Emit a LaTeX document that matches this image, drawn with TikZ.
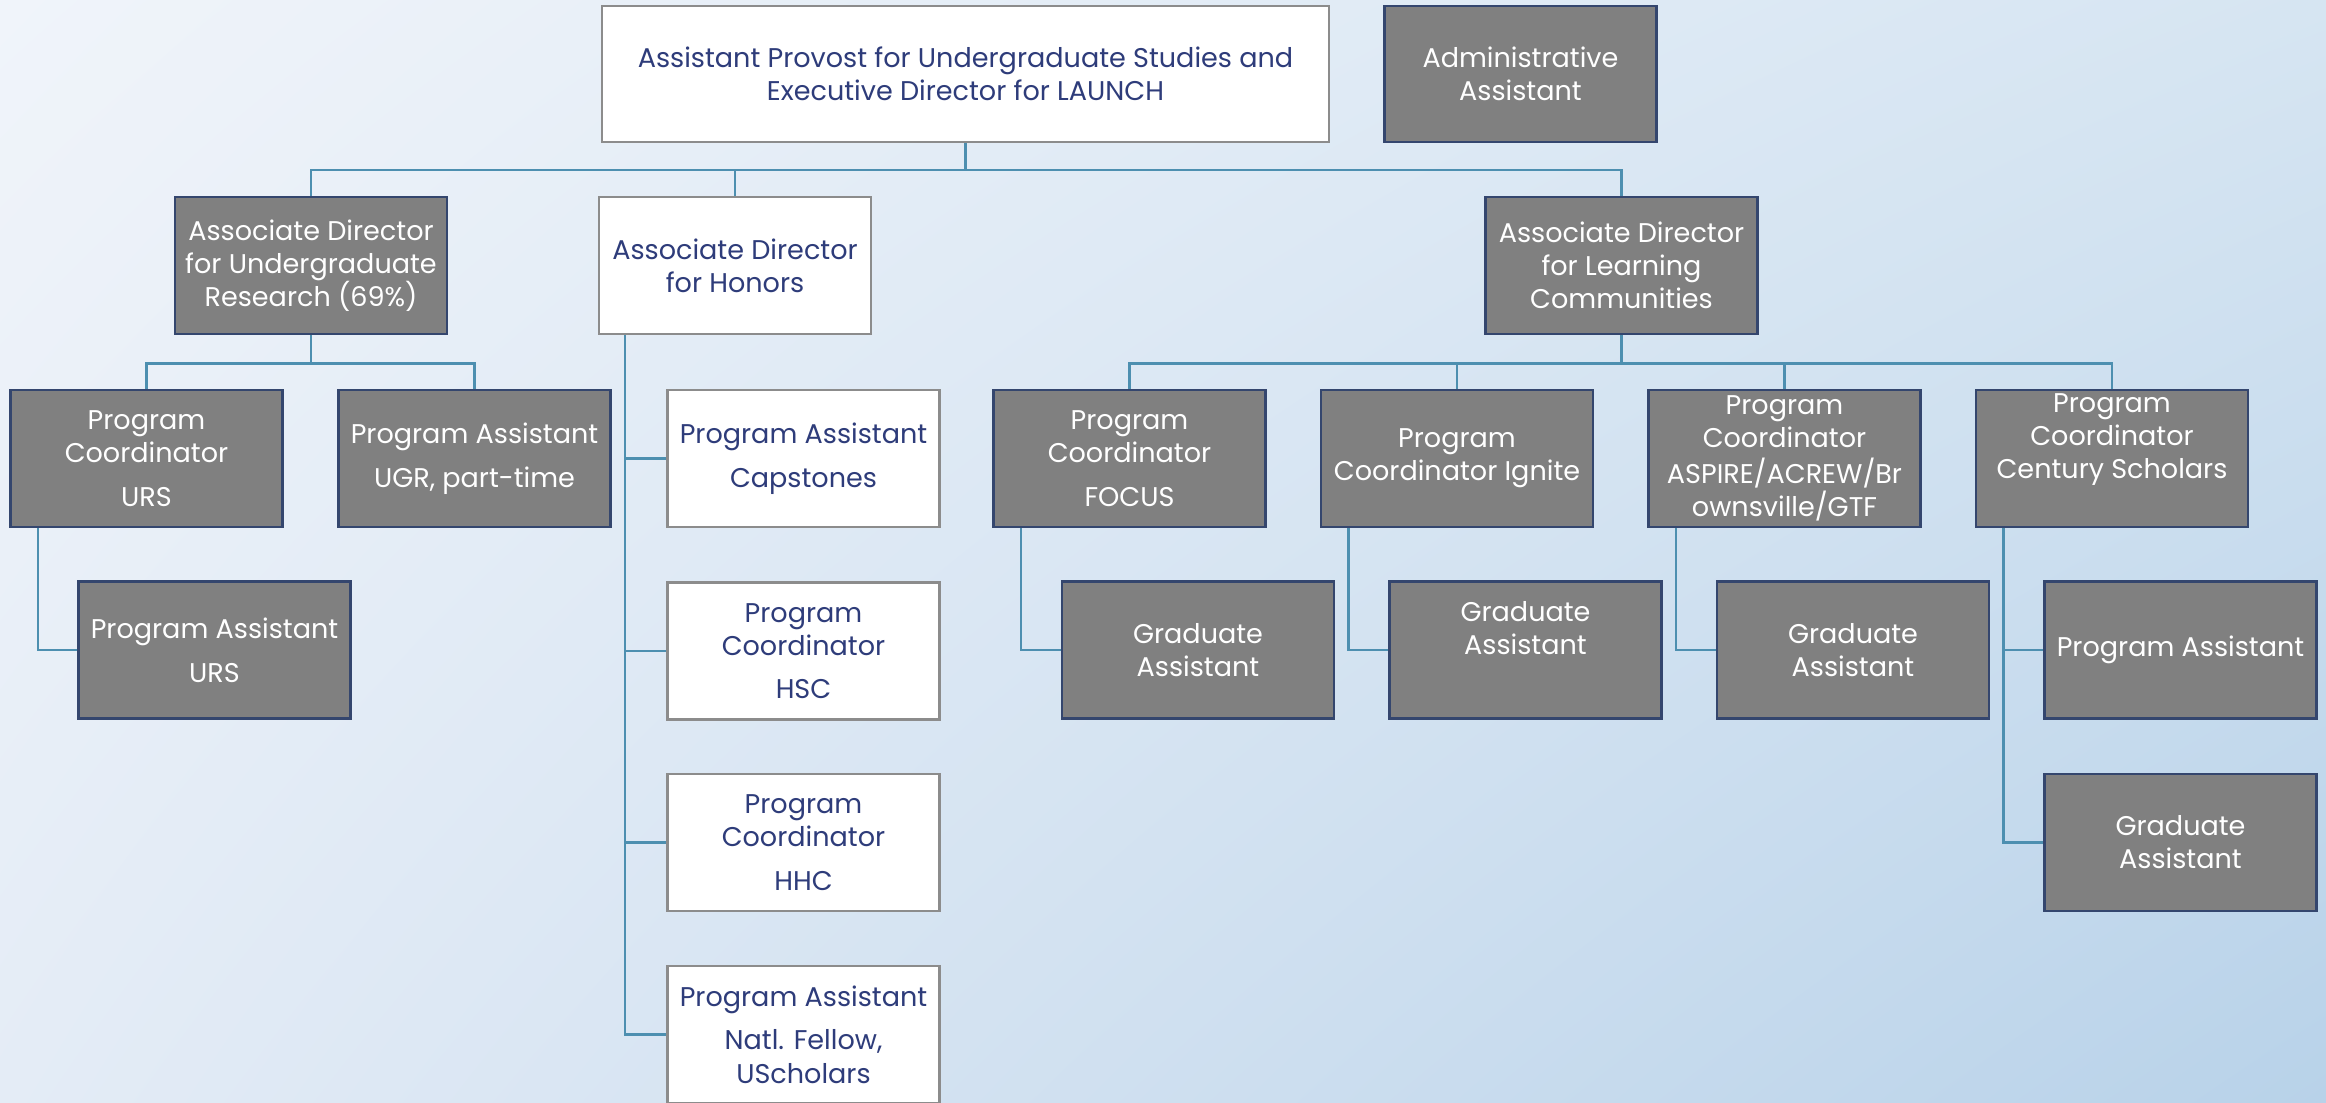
\documentclass[tikz,border=0pt]{standalone}
\usepackage{fontspec}
\setmainfont{Poppins}
\usetikzlibrary{positioning,shadings}

\definecolor{bgTL}{RGB}{240,244,250}
\definecolor{bgTR}{RGB}{214,229,242}
\definecolor{bgBL}{RGB}{228,236,246}
\definecolor{bgBR}{RGB}{184,210,233}
\definecolor{slateedge}{RGB}{52,70,110}
\definecolor{navytext}{RGB}{46,60,122}
\definecolor{linkblue}{RGB}{77,143,176}

\tikzstyle{block} = [draw, rectangle, minimum height=1.37cm, minimum width=2.72cm,
                     inner sep=1pt, align=center, font=\fontsize{7.7}{9.4}\selectfont]
\tikzstyle{grayblock} = [block, line width=0.8pt]
\tikzstyle{whiteblock} = [block, line width=0.6pt]
\tikzstyle{wire} = [line width=0.75pt]

\begin{document}
\begin{tikzpicture} [auto, node distance=1.915cm]

\def\colG{slateedge};
\def\fillG{black!50};

\def\colW{black!45};
\def\textW{navytext};

\def\colL{linkblue};

\useasboundingbox (0,0) rectangle (23.26,-11.02);
\shade[upper left=bgTL,upper right=bgTR,lower left=bgBL,lower right=bgBR]
      (0,0) rectangle (23.26,-11.02);

% top row
\node[whiteblock,minimum width=7.27cm,minimum height=1.36cm,
      draw=\colW,fill=white,text=\textW]
      (provost) at (9.655,-0.74)
      {Assistant Provost for Undergraduate Studies and\\Executive Director for LAUNCH};

\node[grayblock,minimum height=1.36cm,
      right of=provost,node distance=5.55cm,
      draw=\colG,fill=\fillG,text=white]
      (admin) {Administrative\\Assistant};

% associate directors
\node[grayblock,
      below of=provost,xshift=-6.545cm,
      draw=\colG,fill=\fillG,text=white]
      (adUR) {Associate Director\\for Undergraduate\\Research (69\%)};

\node[whiteblock,
      below of=provost,xshift=-2.305cm,
      draw=\colW,fill=white,text=\textW]
      (adHon) {Associate Director\\for Honors};

\node[grayblock,
      below of=provost,xshift=6.56cm,
      draw=\colG,fill=\fillG,text=white]
      (adLC) {Associate Director\\for Learning\\Communities};

% undergraduate research
\node[grayblock,
      below of=adUR,node distance=1.93cm,xshift=-1.645cm,
      draw=\colG,fill=\fillG,text=white]
      (pcURS) {Program\\Coordinator\\[3pt]URS};

\node[grayblock,
      below of=adUR,node distance=1.93cm,xshift=1.635cm,
      draw=\colG,fill=\fillG,text=white]
      (paUGR) {Program Assistant\\[3pt]UGR, part-time};

\node[grayblock,
      below of=pcURS,xshift=0.68cm,
      draw=\colG,fill=\fillG,text=white]
      (paURS) {Program Assistant\\[3pt]URS};

% honors
\node[whiteblock,
      below of=adHon,node distance=1.93cm,xshift=0.685cm,
      draw=\colW,fill=white,text=\textW]
      (paCap) {Program Assistant\\[3pt]Capstones};

\node[whiteblock,
      below of=paCap,node distance=1.925cm,
      draw=\colW,fill=white,text=\textW]
      (pcHSC) {Program\\Coordinator\\[3pt]HSC};

\node[whiteblock,
      below of=pcHSC,
      draw=\colW,fill=white,text=\textW]
      (pcHHC) {Program\\Coordinator\\[3pt]HHC};

\node[whiteblock,
      below of=pcHHC,node distance=1.92cm,
      draw=\colW,fill=white,text=\textW]
      (paNat) {Program Assistant\\[3pt]Natl. Fellow,\\UScholars};

% learning communities
\node[grayblock,
      below of=adLC,node distance=1.93cm,xshift=-4.92cm,
      draw=\colG,fill=\fillG,text=white]
      (pcFOC) {Program\\Coordinator\\[3pt]FOCUS};

\node[grayblock,
      right of=pcFOC,node distance=3.275cm,
      draw=\colG,fill=\fillG,text=white]
      (pcIgn) {Program\\Coordinator Ignite};

\node[grayblock,
      right of=pcIgn,node distance=3.275cm,
      draw=\colG,fill=\fillG,text=white]
      (pcASP) {Program\\Coordinator\\[1pt]ASPIRE/ACREW/Br\\ownsville/GTF};

\node[grayblock,
      right of=pcASP,node distance=3.275cm,text depth=0.45cm,
      draw=\colG,fill=\fillG,text=white]
      (pcCen) {Program\\Coordinator\\Century Scholars};

\node[grayblock,
      below of=pcFOC,xshift=0.685cm,
      draw=\colG,fill=\fillG,text=white]
      (gaFOC) {Graduate\\Assistant};

\node[grayblock,
      below of=pcIgn,xshift=0.685cm,text depth=0.45cm,
      draw=\colG,fill=\fillG,text=white]
      (gaIgn) {Graduate\\Assistant};

\node[grayblock,
      below of=pcASP,xshift=0.685cm,
      draw=\colG,fill=\fillG,text=white]
      (gaASP) {Graduate\\Assistant};

\node[grayblock,
      below of=pcCen,xshift=0.685cm,
      draw=\colG,fill=\fillG,text=white]
      (paCen) {Program Assistant};

\node[grayblock,
      below of=paCen,node distance=1.925cm,
      draw=\colG,fill=\fillG,text=white]
      (gaCen) {Graduate\\Assistant};

% connectors
\draw[wire,\colL] (provost.south) -- ++(0,-0.27) -| (adUR.north);
\draw[wire,\colL] (provost.south) -- ++(0,-0.27) -| (adHon.north);
\draw[wire,\colL] (provost.south) -- ++(0,-0.27) -| (adLC.north);

\draw[wire,\colL] (adUR.south) -- ++(0,-0.28) -| (pcURS.north);
\draw[wire,\colL] (adUR.south) -- ++(0,-0.28) -| (paUGR.north);
\draw[wire,\colL] (pcURS.south west) ++(0.29,0) |- (paURS.west);

\draw[wire,\colL] (adHon.south west) ++(0.27,0) |- (paCap.west);
\draw[wire,\colL] (adHon.south west) ++(0.27,0) |- (pcHSC.west);
\draw[wire,\colL] (adHon.south west) ++(0.27,0) |- (pcHHC.west);
\draw[wire,\colL] (adHon.south west) ++(0.27,0) |- (paNat.west);

\draw[wire,\colL] (adLC.south) -- ++(0,-0.28) -| (pcFOC.north);
\draw[wire,\colL] (adLC.south) -- ++(0,-0.28) -| (pcIgn.north);
\draw[wire,\colL] (adLC.south) -- ++(0,-0.28) -| (pcASP.north);
\draw[wire,\colL] (adLC.south) -- ++(0,-0.28) -| (pcCen.north);

\draw[wire,\colL] (pcFOC.south west) ++(0.29,0) |- (gaFOC.west);
\draw[wire,\colL] (pcIgn.south west) ++(0.29,0) |- (gaIgn.west);
\draw[wire,\colL] (pcASP.south west) ++(0.29,0) |- (gaASP.west);
\draw[wire,\colL] (pcCen.south west) ++(0.29,0) |- (paCen.west);
\draw[wire,\colL] (pcCen.south west) ++(0.29,0) |- (gaCen.west);

\end{tikzpicture}
\end{document}
